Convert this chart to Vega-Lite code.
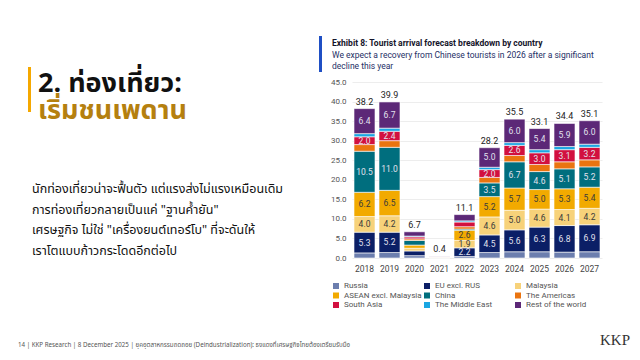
{
  "$schema": "https://vega.github.io/schema/vega-lite/v6.json",
  "background": "white",
  "padding": {"left": 18, "top": 36, "right": 0, "bottom": 0},
  "config": {"view": {"stroke": null}, "font": "Roboto"},
  "resolve": {"scale": {"color": "independent"}, "legend": {"color": "independent"}},
  "vconcat": [
    {
      "resolve": {"scale": {"color": "independent"}, "legend": {"color": "independent"}},
      "hconcat": [
        {
          "vconcat": [
            {"width": 301, "height": 31, "mark": "text", "data": {"values": []}},
            {
              "hconcat": [
                {"width": 10, "height": 1, "mark": "text", "data": {"values": []}},
                {"width": 3, "height": 45, "view": {"fill": "#f5a800", "stroke": null}, "mark": "text", "data": {"values": []}},
                {"width": 7, "height": 1, "mark": "text", "data": {"values": []}},
                {
                  "width": 270, "height": 1, "mark": "text", "data": {"values": []},
                  "title": {
                    "text": "2. ท่องเที่ยว:",
                    "subtitle": "เริ่มชนเพดาน",
                    "orient": "bottom", "anchor": "start", "frame": "bounds",
                    "font": "Noto Sans Thai, Noto Sans, sans-serif", "fontSize": 27, "fontWeight": "bold", "color": "#111111",
                    "subtitleFont": "Noto Sans Thai, Noto Sans, sans-serif", "subtitleFontSize": 27, "subtitleFontWeight": "bold", "subtitleColor": "#b5800f",
                    "subtitlePadding": 0, "offset": 3
                  }
                }
              ],
              "spacing": 0
            },
            {"width": 301, "height": 58, "mark": "text", "data": {"values": []}},
            {
              "width": 301, "height": 1, "mark": "text", "data": {"values": []},
              "title": {
                "text": [
                  "นักท่องเที่ยวน่าจะฟื้นตัว แต่แรงส่งไม่แรงเหมือนเดิม",
                  " ",
                  "การท่องเที่ยวกลายเป็นแค่ \"ฐานค้ำยัน\"",
                  "เศรษฐกิจ ไม่ใช่ \"เครื่องยนต์เทอร์โบ\" ที่จะดันให้",
                  "เราโตแบบก้าวกระโดดอีกต่อไป"
                ],
                "orient": "bottom", "anchor": "start", "frame": "bounds", "dx": 14,
                "font": "Noto Sans Thai, Noto Sans, sans-serif", "fontSize": 12.5, "fontWeight": "normal", "color": "#111111",
                "lineHeight": 20.5, "offset": 0
              }
            }
          ],
          "spacing": 0
        },
        {"width": 3, "height": 36, "view": {"fill": "#1f4fc4", "stroke": null}, "mark": "text", "data": {"values": []}},
        {"width": 8, "height": 1, "mark": "text", "data": {"values": []}},
        {
          "resolve": {"scale": {"color": "independent"}, "legend": {"color": "independent"}},
          "vconcat": [
            {
              "width": 250, "height": 1, "mark": "text", "data": {"values": []},
              "title": {
                "text": "Exhibit 8: Tourist arrival forecast breakdown by country",
                "subtitle": ["We expect a recovery from Chinese tourists in 2026 after a significant", "decline this year"],
                "orient": "bottom", "anchor": "start", "frame": "group", "dx": -20,
                "font": "Roboto", "fontSize": 8.5, "fontWeight": "bold", "color": "#14142a",
                "subtitleFont": "Roboto", "subtitleFontSize": 8.5, "subtitleColor": "#1e2f66",
                "subtitleLineHeight": 11.5, "subtitlePadding": 3, "offset": 2
              }
            },
            {
              "width": 250,
              "height": 176,
              "data": {
                "values": [
                  {"year": "2018", "series": "Russia", "value": 1.3},
                  {"year": "2018", "series": "EU excl. RUS", "value": 5.3},
                  {"year": "2018", "series": "Malaysia", "value": 4.0},
                  {"year": "2018", "series": "ASEAN excl. Malaysia", "value": 6.2},
                  {"year": "2018", "series": "China", "value": 10.5},
                  {"year": "2018", "series": "The Americas", "value": 1.7},
                  {"year": "2018", "series": "South Asia", "value": 2.0},
                  {"year": "2018", "series": "The Middle East", "value": 0.8},
                  {"year": "2018", "series": "Rest of the world", "value": 6.4},
                  {"year": "2019", "series": "Russia", "value": 1.4},
                  {"year": "2019", "series": "EU excl. RUS", "value": 5.2},
                  {"year": "2019", "series": "Malaysia", "value": 4.2},
                  {"year": "2019", "series": "ASEAN excl. Malaysia", "value": 6.5},
                  {"year": "2019", "series": "China", "value": 11.0},
                  {"year": "2019", "series": "The Americas", "value": 1.7},
                  {"year": "2019", "series": "South Asia", "value": 2.4},
                  {"year": "2019", "series": "The Middle East", "value": 0.8},
                  {"year": "2019", "series": "Rest of the world", "value": 6.7},
                  {"year": "2020", "series": "Russia", "value": 0.6},
                  {"year": "2020", "series": "EU excl. RUS", "value": 1.2},
                  {"year": "2020", "series": "Malaysia", "value": 0.7},
                  {"year": "2020", "series": "ASEAN excl. Malaysia", "value": 0.8},
                  {"year": "2020", "series": "China", "value": 1.2},
                  {"year": "2020", "series": "The Americas", "value": 0.4},
                  {"year": "2020", "series": "South Asia", "value": 0.5},
                  {"year": "2020", "series": "The Middle East", "value": 0.2},
                  {"year": "2020", "series": "Rest of the world", "value": 1.1},
                  {"year": "2021", "series": "Russia", "value": 0.05},
                  {"year": "2021", "series": "EU excl. RUS", "value": 0.12},
                  {"year": "2021", "series": "Malaysia", "value": 0.01},
                  {"year": "2021", "series": "ASEAN excl. Malaysia", "value": 0.04},
                  {"year": "2021", "series": "China", "value": 0.01},
                  {"year": "2021", "series": "The Americas", "value": 0.05},
                  {"year": "2021", "series": "South Asia", "value": 0.04},
                  {"year": "2021", "series": "The Middle East", "value": 0.01},
                  {"year": "2021", "series": "Rest of the world", "value": 0.07},
                  {"year": "2022", "series": "Russia", "value": 0.4},
                  {"year": "2022", "series": "EU excl. RUS", "value": 2.2},
                  {"year": "2022", "series": "Malaysia", "value": 1.9},
                  {"year": "2022", "series": "ASEAN excl. Malaysia", "value": 2.6},
                  {"year": "2022", "series": "China", "value": 0.3},
                  {"year": "2022", "series": "The Americas", "value": 0.6},
                  {"year": "2022", "series": "South Asia", "value": 1.2},
                  {"year": "2022", "series": "The Middle East", "value": 0.3},
                  {"year": "2022", "series": "Rest of the world", "value": 1.6},
                  {"year": "2023", "series": "Russia", "value": 1.4},
                  {"year": "2023", "series": "EU excl. RUS", "value": 4.5},
                  {"year": "2023", "series": "Malaysia", "value": 4.6},
                  {"year": "2023", "series": "ASEAN excl. Malaysia", "value": 5.2},
                  {"year": "2023", "series": "China", "value": 3.5},
                  {"year": "2023", "series": "The Americas", "value": 1.4},
                  {"year": "2023", "series": "South Asia", "value": 2.0},
                  {"year": "2023", "series": "The Middle East", "value": 0.6},
                  {"year": "2023", "series": "Rest of the world", "value": 5.0},
                  {"year": "2024", "series": "Russia", "value": 1.6},
                  {"year": "2024", "series": "EU excl. RUS", "value": 5.6},
                  {"year": "2024", "series": "Malaysia", "value": 5.0},
                  {"year": "2024", "series": "ASEAN excl. Malaysia", "value": 5.7},
                  {"year": "2024", "series": "China", "value": 6.7},
                  {"year": "2024", "series": "The Americas", "value": 1.6},
                  {"year": "2024", "series": "South Asia", "value": 2.6},
                  {"year": "2024", "series": "The Middle East", "value": 0.7},
                  {"year": "2024", "series": "Rest of the world", "value": 6.0},
                  {"year": "2025", "series": "Russia", "value": 1.6},
                  {"year": "2025", "series": "EU excl. RUS", "value": 6.3},
                  {"year": "2025", "series": "Malaysia", "value": 4.6},
                  {"year": "2025", "series": "ASEAN excl. Malaysia", "value": 5.0},
                  {"year": "2025", "series": "China", "value": 4.6},
                  {"year": "2025", "series": "The Americas", "value": 1.8},
                  {"year": "2025", "series": "South Asia", "value": 3.0},
                  {"year": "2025", "series": "The Middle East", "value": 0.8},
                  {"year": "2025", "series": "Rest of the world", "value": 5.4},
                  {"year": "2026", "series": "Russia", "value": 1.5},
                  {"year": "2026", "series": "EU excl. RUS", "value": 6.8},
                  {"year": "2026", "series": "Malaysia", "value": 4.1},
                  {"year": "2026", "series": "ASEAN excl. Malaysia", "value": 5.3},
                  {"year": "2026", "series": "China", "value": 5.1},
                  {"year": "2026", "series": "The Americas", "value": 1.8},
                  {"year": "2026", "series": "South Asia", "value": 3.1},
                  {"year": "2026", "series": "The Middle East", "value": 0.8},
                  {"year": "2026", "series": "Rest of the world", "value": 5.9},
                  {"year": "2027", "series": "Russia", "value": 1.6},
                  {"year": "2027", "series": "EU excl. RUS", "value": 6.9},
                  {"year": "2027", "series": "Malaysia", "value": 4.2},
                  {"year": "2027", "series": "ASEAN excl. Malaysia", "value": 5.4},
                  {"year": "2027", "series": "China", "value": 5.2},
                  {"year": "2027", "series": "The Americas", "value": 1.8},
                  {"year": "2027", "series": "South Asia", "value": 3.2},
                  {"year": "2027", "series": "The Middle East", "value": 0.8},
                  {"year": "2027", "series": "Rest of the world", "value": 6.0}
                ]
              },
              "transform": [
                {"calculate": "indexof(['Russia','EU excl. RUS','Malaysia','ASEAN excl. Malaysia','China','The Americas','South Asia','The Middle East','Rest of the world'], datum.series)", "as": "ord"},
                {"stack": "value", "groupby": ["year"], "sort": [{"field": "ord", "order": "ascending"}], "as": ["v0", "v1"]},
                {"calculate": "(datum.v0 + datum.v1) / 2", "as": "vm"}
              ],
              "encoding": {
                "x": {
                  "field": "year", "type": "ordinal", "title": null,
                  "scale": {"paddingInner": 0.16, "paddingOuter": 0.08},
                  "axis": {"labelAngle": 0, "ticks": false, "domain": false, "labelFontSize": 8.5, "labelColor": "#444444", "labelPadding": 6}
                }
              },
              "layer": [
                {
                  "mark": {"type": "bar", "stroke": "white", "strokeWidth": 0.6},
                  "encoding": {
                    "y": {
                      "field": "v0", "type": "quantitative", "title": null,
                      "scale": {"domain": [0, 45], "nice": false},
                      "axis": {"tickCount": 10, "format": ".1f", "ticks": false, "domain": false, "labelFontSize": 8, "labelColor": "#555555", "labelPadding": 6, "labelOverlap": false, "gridColor": "#e9e9e9", "gridWidth": 0.8}
                    },
                    "y2": {"field": "v1"},
                    "color": {
                      "field": "series", "type": "nominal", "title": null,
                      "scale": {
                        "domain": ["Russia", "EU excl. RUS", "Malaysia", "ASEAN excl. Malaysia", "China", "The Americas", "South Asia", "The Middle East", "Rest of the world"],
                        "range": ["#6c7eae", "#0b1f66", "#f7d27a", "#f2aa00", "#006e7e", "#ea7410", "#d2103f", "#1aa6e2", "#5c2877"]
                      },
                      "legend": {
                        "orient": "none", "legendX": -20, "legendY": 200,
                        "columns": 3, "gridAlign": "all", "direction": "horizontal",
                        "symbolType": "square", "symbolSize": 36, "symbolStrokeWidth": 0,
                        "labelFontSize": 8, "labelColor": "#555555", "labelLimit": 200,
                        "columnPadding": 1, "rowPadding": 1.5
                      }
                    }
                  }
                },
                {
                  "transform": [{"filter": "datum.value >= 1.85"}],
                  "mark": {"type": "text", "fontSize": 8.5},
                  "encoding": {
                    "y": {"field": "vm", "type": "quantitative"},
                    "text": {"field": "value", "type": "quantitative", "format": ".1f"},
                    "color": {
                      "condition": {"test": "datum.series === 'Malaysia' || datum.series === 'ASEAN excl. Malaysia'", "value": "#3a3a3a"},
                      "value": "#e2e2ee"
                    }
                  }
                },
                {
                  "transform": [{"aggregate": [{"op": "sum", "field": "value", "as": "total"}], "groupby": ["year"]}],
                  "mark": {"type": "text", "fontSize": 9, "dy": -7, "color": "#222222"},
                  "encoding": {
                    "y": {"field": "total", "type": "quantitative"},
                    "text": {"field": "total", "type": "quantitative", "format": ".1f"}
                  }
                }
              ]
            }
          ],
          "spacing": 7
        }
      ],
      "spacing": 0
    },
    {
      "hconcat": [
        {
          "width": 572, "height": 1, "mark": "text", "data": {"values": []},
          "title": {
            "text": "14   | KKP Research | 8 December 2025 | ยุคอุตสาหกรรมถดถอย (Deindustrialization): ธงแดงที่เศรษฐกิจไทยต้องเตรียมรับมือ",
            "anchor": "start", "frame": "bounds", "font": "Noto Sans Thai, Noto Sans, sans-serif", "fontSize": 6.2, "fontWeight": "normal", "color": "#555555", "offset": 0
          }
        },
        {
          "width": 40, "height": 1, "mark": "text", "data": {"values": []},
          "title": {
            "text": "KKP", "anchor": "start", "frame": "bounds", "font": "Liberation Serif", "fontSize": 15, "fontWeight": "normal", "color": "#333333", "offset": 0
          }
        }
      ],
      "spacing": 10
    }
  ],
  "spacing": 24
}
